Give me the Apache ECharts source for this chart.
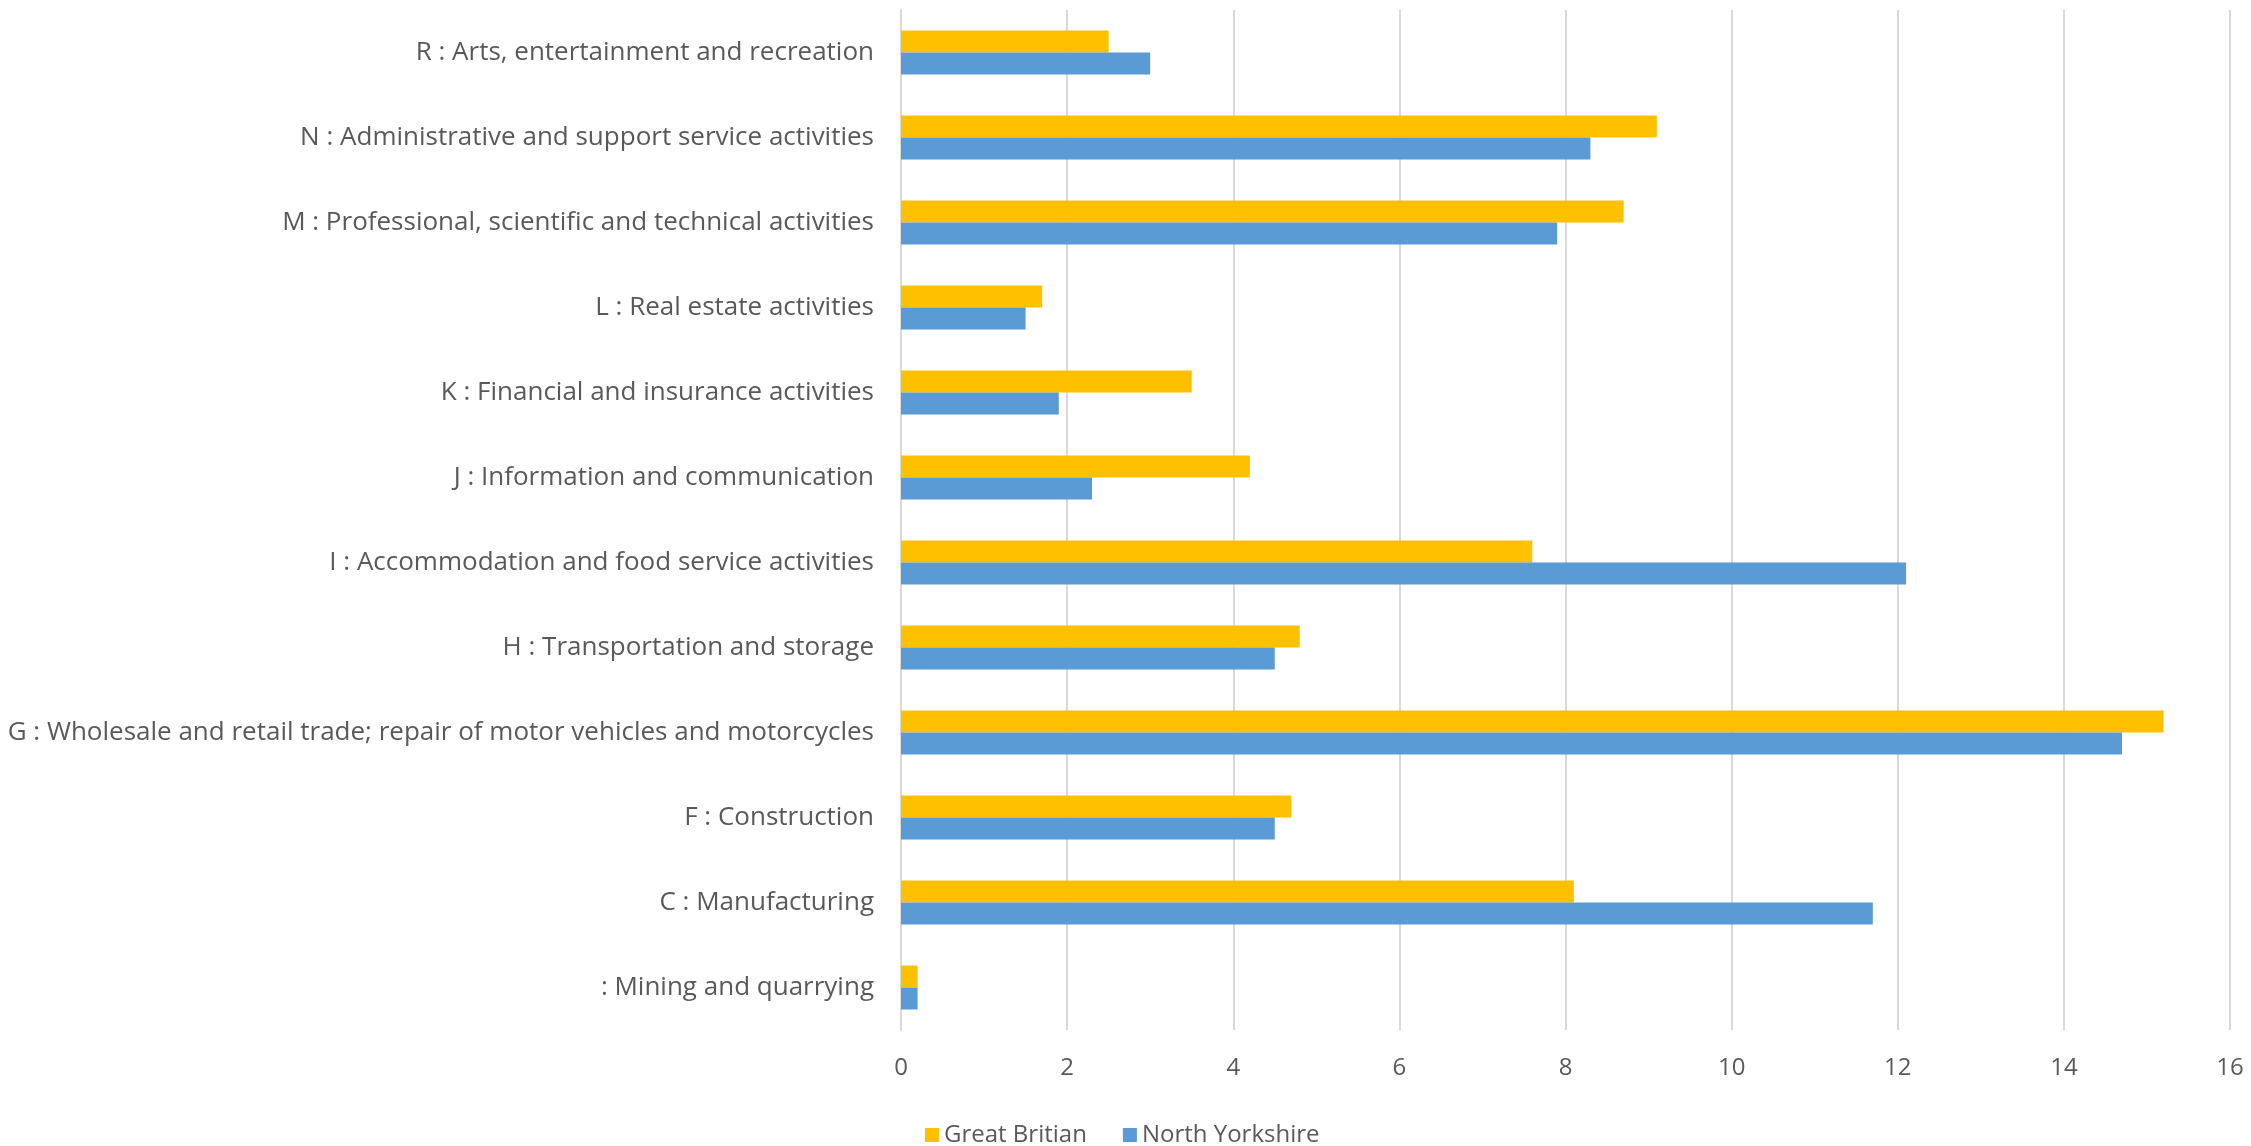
<!DOCTYPE html>
<html>
<head>
<meta charset="utf-8">
<script src="https://cdn.jsdelivr.net/npm/echarts@6/dist/echarts.min.js"></script>
<style>
html,body{margin:0;padding:0;background:#fff;}
#chart{width:2251px;height:1146px;}
</style>
</head>
<body>
<div id="chart"></div>
<script>
const categories = [
  ' : Mining and quarrying',
  'C : Manufacturing',
  'F : Construction',
  'G : Wholesale and retail trade; repair of motor vehicles and motorcycles',
  'H : Transportation and storage',
  'I : Accommodation and food service activities',
  'J : Information and communication',
  'K : Financial and insurance activities',
  'L : Real estate activities',
  'M : Professional, scientific and technical activities',
  'N : Administrative and support service activities',
  'R : Arts, entertainment and recreation'
];
const greatBritain = [0.2, 8.1, 4.7, 15.2, 4.8, 7.6, 4.2, 3.5, 1.7, 8.7, 9.1, 2.5];
const northYorkshire = [0.2, 11.7, 4.5, 14.7, 4.5, 12.1, 2.3, 1.9, 1.5, 7.9, 8.3, 3.0];
const seriesNames = ['Great Britian', 'North Yorkshire'];
const xTicks = {min: 0, max: 16, interval: 2};

const FONT = "'Open Sans', sans-serif";
const chart = echarts.init(document.getElementById('chart'));
chart.setOption({
  animation: false,
  textStyle: {fontFamily: FONT},
  grid: {left: 901, right: 21, top: 10, bottom: 116, containLabel: false},
  legend: {
    data: seriesNames,
    left: 920, top: 1118,
    itemWidth: 14, itemHeight: 14, itemGap: 36,
    icon: 'rect',
    textStyle: {color: '#595959', fontSize: 24, fontFamily: FONT}
  },
  xAxis: {
    type: 'value', min: xTicks.min, max: xTicks.max, interval: xTicks.interval,
    axisLine: {show: false}, axisTick: {show: false},
    axisLabel: {color: '#595959', fontSize: 24, margin: 26, fontFamily: FONT},
    splitLine: {lineStyle: {color: '#d9d9d9', width: 2}}
  },
  yAxis: {
    type: 'category', data: categories,
    axisLine: {lineStyle: {color: '#d9d9d9', width: 2}},
    axisTick: {show: false},
    axisLabel: {color: '#595959', fontSize: 26, margin: 27, fontFamily: FONT}
  },
  series: [
    {name: seriesNames[0], type: 'bar', data: greatBritain, barWidth: 22, barGap: '0%',
     itemStyle: {color: '#FFC000'}},
    {name: seriesNames[1], type: 'bar', data: northYorkshire, barWidth: 22, barGap: '0%',
     itemStyle: {color: '#5B9BD5'}}
  ]
});
</script>
</body>
</html>
